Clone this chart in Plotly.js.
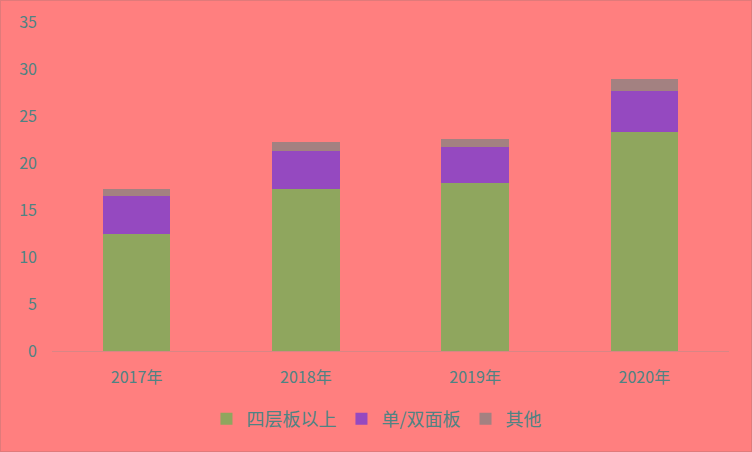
<!DOCTYPE html>
<html>
<head>
<meta charset="utf-8">
<script src="https://cdn.plot.ly/plotly-3.0.1.min.js"></script>
<style>
  html, body { margin: 0; padding: 0; background: #ff7f7f; }
  #wrap { position: relative; width: 752px; height: 452px; }
  #chart { width: 752px; height: 452px; }
  #frame { position: absolute; left: 0; top: 0; width: 750px; height: 450px;
           border: 1px solid #e07a7a; pointer-events: none; }
</style>
</head>
<body>
<div id="wrap">
  <div id="chart"></div>
  <div id="frame"></div>
</div>
<script>
var years = ['2017年', '2018年', '2019年', '2020年'];
var multiLayer = [12.4, 17.2, 17.9, 23.3];   // 四层板以上
var singleDouble = [4.1, 4.1, 3.8, 4.4];     // 单/双面板
var others = [0.7, 0.9, 0.85, 1.2];          // 其他

var seriesNames = ['四层板以上', '单/双面板', '其他'];
var seriesColors = ['#8fa65e', '#9549c0', '#a38181'];
var seriesValues = [multiLayer, singleDouble, others];

var textColor = '#4f8383';
var fontFamily = '"Noto Sans CJK SC", "Noto Sans", sans-serif';

var traces = seriesValues.map(function(vals, i) {
  return {
    type: 'bar',
    x: years,
    y: vals,
    name: seriesNames[i],
    marker: { color: seriesColors[i], line: { width: 0 } },
    hoverinfo: 'x+y+name'
  };
});

var layout = {
  width: 752,
  height: 452,
  barmode: 'stack',
  bargap: 0.6,
  paper_bgcolor: '#ff7f7f',
  plot_bgcolor: '#ff7f7f',
  font: { family: fontFamily, color: textColor, size: 16 },
  margin: { l: 52, r: 23, t: 22, b: 101 },
  showlegend: true,
  legend: {
    orientation: 'h',
    traceorder: 'normal',
    x: 0.48,
    xanchor: 'center',
    y: -0.207,
    yanchor: 'middle',
    itemwidth: 30,
    font: { size: 18, color: textColor },
    bgcolor: 'rgba(0,0,0,0)'
  },
  xaxis: {
    type: 'category',
    showline: true,
    linecolor: '#d98585',
    linewidth: 1,
    ticks: '',
    showgrid: false,
    ticklabelstandoff: 12,
    tickfont: { size: 16, color: textColor }
  },
  yaxis: {
    range: [0, 35],
    dtick: 5,
    tick0: 0,
    showgrid: false,
    zeroline: false,
    showline: false,
    ticks: '',
    ticklabelstandoff: 14,
    tickfont: { size: 16, color: textColor }
  }
};

Plotly.newPlot('chart', traces, layout, { displayModeBar: false, staticPlot: true });
</script>
</body>
</html>
